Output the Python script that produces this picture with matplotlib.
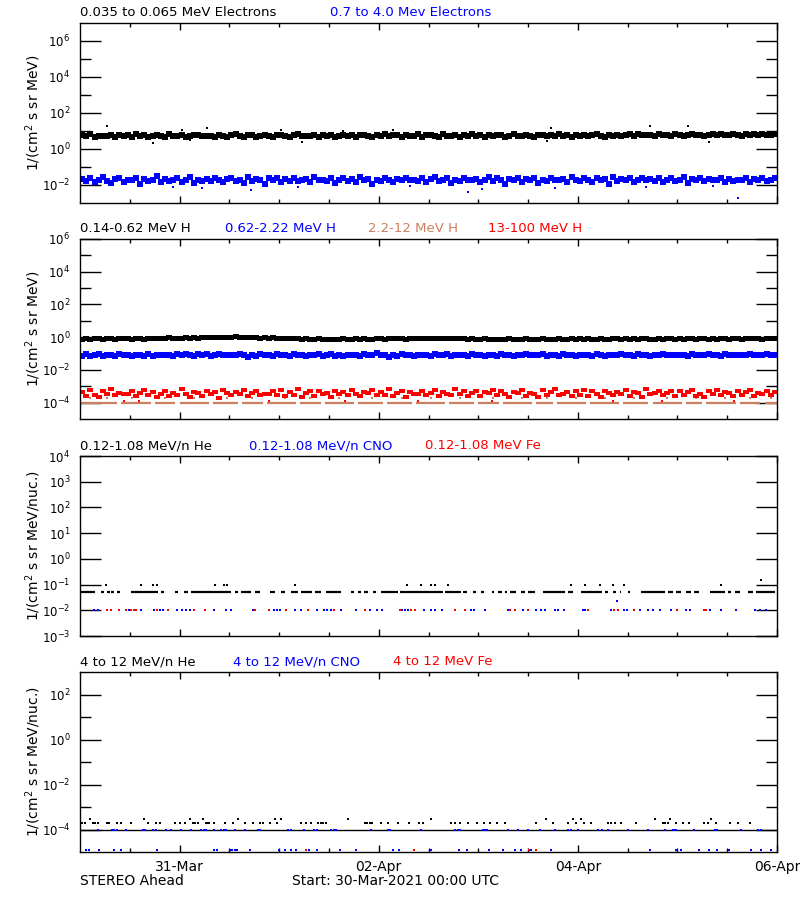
import numpy as np
import matplotlib.pyplot as plt
from matplotlib.ticker import FixedLocator, NullFormatter, LogFormatterMathtext

# time axis: hours since 30-Mar-2021 00:00 UTC, one value per hour
hours = np.arange(168) + 0.5

# --- panel 1: electrons (1/(cm2 s sr MeV)) ---
e_low = [6.1, 5.2, 6.8, 4.9, 5.6, 5.0, 5.5, 5.8, 4.6, 6.2, 5.3, 5.9,
         4.8, 6.4, 5.1, 5.7, 4.5, 5.4, 6.0, 5.4, 4.9, 6.6, 5.2, 5.5,
         5.8, 4.7, 5.2, 5.9, 6.3, 5.0, 5.6, 5.6, 4.8, 6.1, 5.3, 4.6,
         5.8, 6.5, 5.1, 4.9, 5.7, 6.2, 4.4, 5.5, 6.0, 5.2, 4.8, 6.3,
         5.9, 5.4, 4.7, 5.9, 6.4, 5.1, 5.3, 5.0, 6.1, 4.6, 5.8, 5.5,
         6.2, 4.9, 5.6, 5.9, 5.2, 6.0, 4.8, 5.7, 6.3, 5.1, 4.5, 5.9,
         5.4, 6.6, 5.0, 5.7, 5.8, 4.7, 6.1, 5.5, 5.2, 6.4, 4.9, 5.7,
         6.0, 5.3, 4.8, 6.7, 5.6, 5.1, 6.2, 4.6, 5.9, 5.4, 6.5, 5.0,
         5.7, 4.9, 6.3, 5.2, 5.8, 6.1, 4.7, 5.5, 6.4, 5.0, 5.6, 6.0,
         5.3, 4.8, 6.2, 5.9, 5.4, 5.8, 5.4, 6.6, 5.1, 5.7, 4.9, 6.1,
         5.5, 6.3, 5.0, 5.8, 6.5, 5.2, 4.8, 6.0, 5.6, 6.2, 5.3, 5.9,
         6.4, 5.1, 6.8, 5.7, 6.0, 6.2, 5.4, 6.6, 5.9, 6.2, 5.5, 7.0,
         6.1, 5.6, 6.3, 6.5, 5.8, 6.3, 5.2, 5.9, 6.7, 5.9, 6.4, 6.0,
         5.7, 6.6, 6.2, 5.5, 7.1, 6.0, 6.4, 5.8, 6.9, 6.3, 6.1, 6.7]
e_low_spike_t = [6.5, 17.5, 24.5, 26.5, 30.5, 48.5, 53.5, 63.5, 75.5, 112.5, 113.5,
                 137.5, 146.5, 151.5]
e_low_spike_v = [19.0, 2.1, 11.0, 3.1, 14.0, 12.0, 2.6, 10.5, 12.0, 2.8, 15.0,
                 20.0, 18.0, 2.5]
e_high = [0.022, 0.016, 0.025, 0.014, 0.019, 0.028, 0.017, 0.013, 0.021, 0.024, 0.015, 0.020,
          0.018, 0.026, 0.012, 0.022, 0.016, 0.019, 0.030, 0.014, 0.021, 0.017, 0.018, 0.023,
          0.015, 0.020, 0.027, 0.013, 0.018, 0.017, 0.022, 0.016, 0.025, 0.019, 0.014, 0.021,
          0.024, 0.017, 0.020, 0.013, 0.028, 0.016, 0.022, 0.019, 0.012, 0.023, 0.018, 0.026,
          0.015, 0.021, 0.017, 0.024, 0.016, 0.019, 0.022, 0.014, 0.027, 0.018, 0.020, 0.016,
          0.023, 0.013, 0.019, 0.025, 0.017, 0.021, 0.015, 0.029, 0.018, 0.022, 0.012, 0.020,
          0.016, 0.024, 0.019, 0.014, 0.022, 0.018, 0.026, 0.019, 0.020, 0.017, 0.023, 0.015,
          0.021, 0.028, 0.016, 0.019, 0.024, 0.013, 0.020, 0.017, 0.025, 0.018, 0.018, 0.022,
          0.014, 0.020, 0.027, 0.016, 0.023, 0.019, 0.012, 0.021, 0.018, 0.025, 0.015, 0.022,
          0.019, 0.026, 0.013, 0.020, 0.017, 0.024, 0.019, 0.018, 0.022, 0.015, 0.028, 0.019,
          0.016, 0.023, 0.020, 0.014, 0.025, 0.018, 0.021, 0.012, 0.027, 0.017, 0.022, 0.019,
          0.024, 0.015, 0.020, 0.026, 0.018, 0.021, 0.017, 0.023, 0.014, 0.019, 0.025, 0.016,
          0.020, 0.027, 0.013, 0.022, 0.018, 0.024, 0.016, 0.021, 0.019, 0.019, 0.026, 0.015,
          0.022, 0.017, 0.019, 0.020, 0.025, 0.014, 0.021, 0.018, 0.023, 0.016, 0.020, 0.024]
e_high_spike_t = [22.5, 29.5, 52.5, 79.5, 93.5, 114.5, 136.5, 152.5, 158.5, 41.2, 96.8]
e_high_spike_v = [0.008, 0.007, 0.008, 0.009, 0.004, 0.007, 0.008, 0.009, 0.002, 0.005, 0.006]

# --- panel 2: protons ---
h_low = [0.82, 0.90, 0.78, 0.86, 0.93, 0.80, 0.88, 0.84, 0.79, 0.91, 0.85, 0.87,
         0.81, 0.89, 0.92, 0.83, 0.86, 0.95, 0.88, 0.84, 0.90, 0.97, 0.87, 0.93,
         0.89, 0.96, 0.91, 0.99, 0.94, 1.02, 0.97, 1.05, 0.99, 1.08, 1.03, 0.98,
         1.06, 1.12, 1.01, 1.09, 1.04, 0.99, 1.03, 0.95, 0.98, 0.92, 0.96, 0.90,
         0.88, 0.93, 0.86, 0.90, 0.84, 0.80, 0.87, 0.82, 0.78, 0.85, 0.81, 0.79,
         0.83, 0.77, 0.80, 0.86, 0.82, 0.79, 0.84, 0.81, 0.88, 0.83, 0.80, 0.85,
         0.87, 0.82, 0.89, 0.84, 0.91, 0.86, 0.83, 0.88, 0.85, 0.90, 0.87, 0.84,
         0.89, 0.93, 0.86, 0.91, 0.88, 0.84, 0.87, 0.90, 0.85, 0.82, 0.86, 0.83,
         0.80, 0.84, 0.81, 0.78, 0.83, 0.79, 0.82, 0.86, 0.80, 0.77, 0.81, 0.84,
         0.79, 0.83, 0.80, 0.85, 0.82, 0.78, 0.81, 0.84, 0.80, 0.83, 0.86, 0.82,
         0.85, 0.81, 0.88, 0.83, 0.80, 0.86, 0.82, 0.79, 0.84, 0.87, 0.81, 0.85,
         0.82, 0.86, 0.80, 0.84, 0.88, 0.83, 0.79, 0.85, 0.81, 0.87, 0.84, 0.80,
         0.86, 0.82, 0.89, 0.84, 0.80, 0.85, 0.88, 0.83, 0.86, 0.81, 0.84, 0.87,
         0.83, 0.88, 0.85, 0.81, 0.86, 0.90, 0.84, 0.87, 0.82, 0.85, 0.89, 0.84]
h_mid = [0.075, 0.088, 0.070, 0.082, 0.095, 0.072, 0.085, 0.079, 0.068, 0.090, 0.077, 0.083,
         0.071, 0.086, 0.080, 0.074, 0.092, 0.069, 0.081, 0.087, 0.076, 0.084, 0.073, 0.089,
         0.078, 0.094, 0.082, 0.072, 0.088, 0.080, 0.091, 0.075, 0.085, 0.098, 0.079, 0.086,
         0.083, 0.076, 0.090, 0.081, 0.062, 0.087, 0.074, 0.093, 0.080, 0.085, 0.071, 0.088,
         0.077, 0.084, 0.070, 0.089, 0.079, 0.083, 0.073, 0.086, 0.078, 0.091, 0.075, 0.082,
         0.088, 0.074, 0.081, 0.069, 0.087, 0.079, 0.084, 0.072, 0.090, 0.077, 0.083, 0.106,
         0.080, 0.086, 0.063, 0.082, 0.075, 0.089, 0.078, 0.084, 0.071, 0.087, 0.079, 0.083,
         0.074, 0.088, 0.081, 0.076, 0.092, 0.070, 0.085, 0.079, 0.083, 0.073, 0.089, 0.077,
         0.084, 0.072, 0.087, 0.080, 0.075, 0.090, 0.078, 0.083, 0.069, 0.086, 0.081, 0.088,
         0.076, 0.082, 0.079, 0.091, 0.073, 0.085, 0.080, 0.074, 0.088, 0.078, 0.084, 0.071,
         0.087, 0.079, 0.083, 0.075, 0.089, 0.081, 0.072, 0.086, 0.080, 0.077, 0.092, 0.078,
         0.082, 0.074, 0.088, 0.080, 0.085, 0.071, 0.083, 0.079, 0.090, 0.076, 0.084, 0.081,
         0.078, 0.086, 0.073, 0.089, 0.080, 0.083, 0.077, 0.091, 0.079, 0.084, 0.072, 0.088,
         0.081, 0.076, 0.087, 0.083, 0.079, 0.090, 0.082, 0.086, 0.078, 0.093, 0.080, 0.085]
# 13-100 MeV H, in units of 1e-4
h_top = [4.2, 2.6, 5.8, 3.1, 2.2, 4.9, 3.6, 6.5, 2.8, 4.0, 3.3, 3.3,
         5.2, 2.4, 3.8, 6.1, 2.9, 4.5, 2.1, 3.5, 5.5, 2.7, 4.1, 3.0,
         6.8, 3.4, 2.3, 4.7, 3.9, 2.5, 5.3, 3.2, 4.4, 2.0, 5.9, 3.7,
         2.8, 4.6, 3.3, 6.3, 2.4, 4.0, 5.1, 2.9, 3.6, 3.2, 4.8, 3.1,
         5.6, 2.6, 4.3, 3.0, 6.6, 2.2, 3.8, 4.9, 2.7, 5.4, 3.5, 4.1,
         2.3, 5.0, 3.4, 4.4, 2.9, 6.0, 3.2, 2.5, 4.7, 3.7, 5.7, 2.8,
         4.5, 3.1, 6.9, 2.6, 3.9, 5.2, 2.1, 4.2, 3.6, 3.4, 5.5, 3.0,
         3.8, 5.9, 2.4, 4.6, 3.3, 2.9, 6.4, 3.5, 4.8, 2.7, 4.0, 5.1,
         2.5, 4.3, 3.7, 6.2, 2.8, 5.0, 3.2, 2.3, 4.5, 3.9, 5.8, 2.6,
         4.1, 3.4, 2.2, 5.6, 3.0, 4.7, 6.7, 2.9, 3.6, 4.4, 2.4, 5.3,
         3.1, 6.0, 2.7, 4.9, 3.5, 2.1, 5.4, 3.8, 3.0, 4.2, 3.3, 5.7,
         2.6, 4.6, 3.9, 2.3, 6.5, 3.2, 4.0, 5.1, 2.8, 3.7, 4.8, 2.5,
         5.5, 3.0, 4.4, 6.1, 2.7, 3.6, 2.2, 4.9, 3.4, 5.9, 2.9, 4.3,
         3.8, 2.4, 5.2, 3.1, 4.7, 6.3, 2.6, 4.0, 3.5, 5.0, 2.8, 4.5]
h_top_spike_t = [10.5, 14.2, 45.5, 63.8, 81.5, 99.2, 128.5, 140.3, 157.6]
h_top_spike_v = [1.3, 1.2, 1.2, 1.3, 1.3, 1.2, 1.2, 1.3, 1.2]
# 2.2-12 MeV H: one-count level with gaps, and two-count points
h_hi_level = 9e-5
h_hi_gaps = [9, 17, 23, 31, 38, 44, 52, 58, 66, 73, 80, 88, 95, 101, 109, 114,
             122, 130, 137, 145, 150, 158, 164]
h_hi_double = 1.8e-4
h_hi_double_t = [2, 6, 12, 20, 27, 35, 41, 49, 55, 62, 70, 77, 84, 91, 99, 106,
                 112, 119, 126, 133, 141, 148, 155, 161, 166]

# --- panel 3: 0.12-1.08 MeV/n heavy ions ---
he1_level = 0.05
he1_segments = [(0.2, 3.5), (5.0, 5.9), (6.6, 7.2), (7.5, 8.2), (9.0, 9.6), (12.4, 18.8),
                (19.6, 20.2), (22.8, 23.6), (25.1, 26.0), (26.8, 36.5), (37.3, 38.1),
                (38.9, 41.3), (42.1, 43.5), (45.7, 46.9), (48.5, 49.3), (50.9, 52.5),
                (53.3, 55.8), (56.6, 58.2), (59.4, 63.0), (65.4, 66.0), (67.0, 67.8),
                (68.5, 69.4), (70.6, 71.4), (72.6, 76.6), (77.1, 87.5), (87.9, 91.9),
                (92.3, 93.4), (94.7, 95.5), (96.7, 97.4), (99.2, 99.8), (100.8, 101.7),
                (102.4, 103.0), (103.6, 105.2), (106.2, 107.2), (108.0, 109.6),
                (111.6, 116.8), (117.6, 118.8), (120.8, 125.7), (126.5, 127.3),
                (128.5, 129.3), (130.1, 130.5), (132.1, 132.5), (135.3, 140.9),
                (141.7, 142.9), (143.7, 144.9), (146.1, 147.3), (148.1, 149.3),
                (151.8, 155.4), (156.2, 157.0), (157.8, 159.0), (161.0, 162.2), (163.0, 167.4)]
he1_peak_t = [6.3, 14.7, 17.6, 18.5, 32.5, 34.7, 35.4, 51.8, 78.8, 82.2, 84.6, 85.6,
              88.7, 118.3, 121.7, 125.3, 128.5, 131.1, 154.5, 164.2]
he1_peak_v = [0.1, 0.1, 0.1, 0.1, 0.1, 0.1, 0.1, 0.1, 0.1, 0.1, 0.1, 0.1,
              0.1, 0.1, 0.1, 0.1, 0.1, 0.1, 0.1, 0.15]
cno1_t = [3.4, 4.3, 11.7, 14.7, 17.9, 19.3, 20.0, 23.4, 24.5, 25.5, 26.5, 32.4, 35.2,
          36.4, 41.7, 46.8, 47.5, 48.2, 51.8, 53.2, 57.1, 58.8, 59.6, 60.5, 62.9, 66.5,
          69.8, 71.6, 72.8, 77.7, 78.4, 79.1, 83.0, 84.6, 85.6, 87.3, 94.3, 95.0, 97.7,
          103.2, 106.8, 109.9, 111.1, 112.1, 114.5, 115.2, 116.7, 121.2, 121.7, 128.0,
          129.4, 131.2, 131.8, 134.9, 136.9, 138.1, 139.9, 142.4, 146.1, 147.1, 151.8,
          154.5, 158.1, 162.7, 163.9, 165.3]
cno1_v = [0.01] * 50 + [0.022] + [0.01] * 15
fe1_t = [6.5, 7.5, 9.4, 11.0, 12.3, 13.0, 13.6, 18.6, 21.2, 27.4, 30.1, 42.1, 45.5,
         49.7, 54.9, 61.3, 68.6, 77.1, 79.8, 80.8, 90.5, 92.9, 103.6, 104.8, 108.0,
         122.4, 128.8, 129.6, 133.5, 143.9, 150.4, 150.9]
fe1_v = [0.01] * len(fe1_t)

# --- panel 4: 4-12 MeV/n heavy ions ---
he4_level = 1e-4
he4_segments = [(0.0, 168.0)]
he4_t = [0.5, 1.1, 2.3, 3.1, 3.7, 4.3, 6.6, 7.1, 8.8, 10.0, 12.4, 15.4, 16.4, 18.2,
         19.2, 23.0, 24.0, 25.2, 26.4, 27.2, 27.8, 28.4, 29.6, 30.3, 30.8, 31.2, 32.4,
         34.9, 36.9, 38.1, 39.7, 41.7, 43.3, 44.1, 45.9, 46.9, 47.5, 48.5, 53.2, 54.5,
         55.7, 57.3, 58.0, 58.6, 59.3, 64.6, 68.6, 69.2, 69.9, 70.5, 72.6, 74.2, 76.6,
         79.4, 81.8, 82.6, 84.7, 89.5, 90.3, 91.5, 93.5, 95.8, 97.4, 98.8, 100.4, 102.4,
         110.0, 112.4, 114.0, 117.6, 118.8, 119.6, 120.8, 121.6, 123.2, 127.3, 128.1,
         128.9, 130.5, 134.1, 138.5, 140.5, 141.1, 141.7, 142.1, 143.7, 145.3, 146.9,
         150.5, 151.4, 152.2, 153.4, 156.6, 158.6, 161.4]
he4_v = [2e-4, 2e-4, 3e-4, 2e-4, 2e-4, 2e-4, 2e-4, 2e-4, 2e-4, 2e-4, 2e-4, 3e-4, 2e-4, 2e-4,
         2e-4, 2e-4, 2e-4, 2e-4, 3e-4, 2e-4, 2e-4, 2e-4, 3e-4, 2e-4, 2e-4, 2e-4, 2e-4,
         2e-4, 2e-4, 3e-4, 2e-4, 2e-4, 2e-4, 2e-4, 2e-4, 3e-4, 2e-4, 3e-4, 2e-4, 2e-4,
         2e-4, 2e-4, 2e-4, 2e-4, 2e-4, 3e-4, 2e-4, 2e-4, 2e-4, 2e-4, 2e-4, 2e-4, 2e-4,
         2e-4, 2e-4, 2e-4, 3e-4, 2e-4, 2e-4, 2e-4, 2e-4, 2e-4, 2e-4, 2e-4, 2e-4, 2e-4,
         2e-4, 3e-4, 2e-4, 2e-4, 3e-4, 2e-4, 3e-4, 2e-4, 2e-4, 2e-4, 2e-4,
         2e-4, 2e-4, 2e-4, 3e-4, 2e-4, 2e-4, 2e-4, 3e-4, 2e-4, 2e-4, 2e-4,
         2e-4, 2e-4, 3e-4, 2e-4, 2e-4, 2e-4, 2e-4]
cno4_mid_t = [4.3, 7.6, 8.2, 8.8, 11.2, 15.2, 15.6, 17.6, 18.2, 20.8, 22.0, 24.4, 26.8,
              29.2, 29.9, 30.4, 32.4, 34.1, 34.7, 35.3, 37.3, 39.7, 42.9, 43.5, 50.1,
              50.9, 54.1, 56.5, 57.2, 60.5, 61.2, 61.8, 70.2, 74.2, 74.8, 82.2, 90.3,
              91.0, 91.5, 97.2, 97.6, 98.0, 103.2, 105.6, 108.0, 110.8, 114.4, 117.6,
              118.3, 120.0, 124.9, 125.7, 127.3, 132.1, 136.9, 140.9, 142.9, 143.3,
              143.7, 148.1, 153.0, 153.6, 159.4, 163.4, 164.2]
cno4_low_t = [1.5, 2.2, 4.7, 8.3, 9.8, 18.6, 32.3, 33.1, 36.1, 36.6, 37.3, 37.9, 40.9,
              47.9, 49.5, 50.9, 52.1, 55.3, 57.2, 62.6, 66.6, 75.4, 76.8, 84.7, 91.3,
              93.4, 98.5, 102.0, 104.9, 106.2, 108.8, 113.6, 137.5, 143.7, 144.8, 149.3,
              151.6, 153.6, 156.4, 161.8, 164.2, 166.6]
cno4_mid = 1e-4
cno4_low = 1.2e-5
fe4_t = [54.4, 80.5, 108.2, 109.8]
fe4_v = 1.2e-5

BROWN = '#cd7f5f'

fig = plt.figure(figsize=(8, 9), dpi=100)
plt.rcParams['font.family'] = ['DejaVu Sans']

def make_axes(top_px, ymin, ymax, major, minor):
    ax = fig.add_axes([80 / 800, 1 - (top_px + 180) / 900, 697 / 800, 180 / 900])
    ax.set_xlim(0, 168)
    ax.set_yscale('log')
    ax.set_ylim(ymin, ymax)
    ax.yaxis.set_major_locator(FixedLocator(major))
    ax.yaxis.set_major_formatter(LogFormatterMathtext())
    ax.yaxis.set_minor_locator(FixedLocator(minor))
    ax.yaxis.set_minor_formatter(NullFormatter())
    ax.xaxis.set_major_locator(FixedLocator([24, 72, 120, 168]))
    ax.xaxis.set_minor_locator(FixedLocator(np.arange(12, 168, 12)))
    ax.xaxis.set_major_formatter(NullFormatter())
    ax.tick_params(axis='y', which='major', direction='in', length=15, width=1,
                   left=True, right=True, labelsize=8.5, pad=7)
    ax.tick_params(axis='y', which='minor', direction='in', length=8, width=1,
                   left=True, right=True)
    ax.tick_params(axis='x', which='major', direction='in', length=5, width=1,
                   bottom=True, top=True)
    ax.tick_params(axis='x', which='minor', direction='in', length=3, width=1,
                   bottom=True, top=True)
    for s in ax.spines.values():
        s.set_linewidth(1)
    return ax

def titles(ax, items):
    for text, color, xpx in items:
        ax.text((xpx - 80) / 697, 1.02, text, color=color, fontsize=9.5,
                transform=ax.transAxes, ha='left', va='bottom')

def dots(ax, t, v, color, ms=2.0):
    ax.plot(t, v, 's', color=color, ms=ms, mew=0, ls='none')

def band(ax, t, v, color, height_px, width_px=6.0):
    # 1-hour samples drawn as overlapping bars so the band stays continuous
    m = max(width_px, height_px)
    a, b = width_px / m, height_px / m
    rect = [(-a, -b), (a, -b), (a, b), (-a, b), (-a, -b)]
    ax.plot(t, v, ls='none', marker=rect, ms=m * 0.72, color=color, mew=0)

# panel 1
ax1 = make_axes(23, 1e-3, 1e7, [1e-2, 1e0, 1e2, 1e4, 1e6], [1e-1, 1e1, 1e3, 1e5])
band(ax1, hours, e_low, 'black', 6)
dots(ax1, e_low_spike_t, e_low_spike_v, 'black')
band(ax1, hours, e_high, 'blue', 6.5)
dots(ax1, e_high_spike_t, e_high_spike_v, 'blue')
titles(ax1, [('0.035 to 0.065 MeV Electrons', 'black', 80),
             ('0.7 to 4.0 Mev Electrons', 'blue', 330)])

# panel 2
ax2 = make_axes(239, 1e-5, 1e6, [1e-4, 1e-2, 1e0, 1e2, 1e4, 1e6], [1e-3, 1e-1, 1e1, 1e3, 1e5])
h_hi = np.array([h_hi_level] * 168)
h_hi[h_hi_gaps] = 0
ok = h_hi > 0
ax2.hlines(h_hi[ok], hours[ok] - 0.5, hours[ok] + 0.5, color=BROWN, lw=1.6)
dots(ax2, np.array(h_hi_double_t) + 0.5, [h_hi_double] * len(h_hi_double_t), BROWN, ms=1.6)
band(ax2, hours, np.array(h_top) * 1e-4, 'red', 4)
dots(ax2, h_top_spike_t, np.array(h_top_spike_v) * 1e-4, 'red')
band(ax2, hours, h_low, 'black', 5)
band(ax2, hours, h_mid, 'blue', 5.5)
titles(ax2, [('0.14-0.62 MeV H', 'black', 80), ('0.62-2.22 MeV H', 'blue', 225),
             ('2.2-12 MeV H', BROWN, 368), ('13-100 MeV H', 'red', 488)])

# panel 3
ax3 = make_axes(456, 1e-3, 1e4, [1e-3, 1e-2, 1e-1, 1e0, 1e1, 1e2, 1e3, 1e4], [])
ax3.hlines([he1_level] * len(he1_segments), [s[0] for s in he1_segments],
           [s[1] for s in he1_segments], color='black', lw=1.6)
dots(ax3, he1_peak_t, he1_peak_v, 'black')
dots(ax3, cno1_t, cno1_v, 'blue')
dots(ax3, fe1_t, fe1_v, 'red')
titles(ax3, [('0.12-1.08 MeV/n He', 'black', 80), ('0.12-1.08 MeV/n CNO', 'blue', 249),
             ('0.12-1.08 MeV Fe', 'red', 425)])

# panel 4
ax4 = make_axes(672, 1e-5, 1e3, [1e-4, 1e-2, 1e0, 1e2], [1e-3, 1e-1, 1e1])
ax4.hlines([he4_level] * len(he4_segments), [s[0] for s in he4_segments],
           [s[1] for s in he4_segments], color='black', lw=1.0)
dots(ax4, he4_t, he4_v, 'black', ms=1.8)
dots(ax4, cno4_mid_t, [cno4_mid] * len(cno4_mid_t), 'blue', ms=1.6)
dots(ax4, cno4_low_t, [cno4_low] * len(cno4_low_t), 'blue', ms=1.8)
dots(ax4, fe4_t, [fe4_v] * len(fe4_t), 'red', ms=1.8)
titles(ax4, [('4 to 12 MeV/n He', 'black', 80), ('4 to 12 MeV/n CNO', 'blue', 233),
             ('4 to 12 MeV Fe', 'red', 393)])
ax4.xaxis.set_major_formatter(plt.FixedFormatter(['31-Mar', '02-Apr', '04-Apr', '06-Apr']))
ax4.tick_params(axis='x', which='major', labelsize=10, pad=6)

# y labels
for ax, lab in [(ax1, '1/(cm$^2$ s sr MeV)'), (ax2, '1/(cm$^2$ s sr MeV)'),
                (ax3, '1/(cm$^2$ s sr MeV/nuc.)'), (ax4, '1/(cm$^2$ s sr MeV/nuc.)')]:
    pos = ax.get_position()
    fig.text(33 / 800, pos.y0 + pos.height / 2, lab, rotation=90, fontsize=10,
             ha='center', va='center')

fig.text(80 / 800, 1 - 881 / 900, 'STEREO Ahead', fontsize=10, ha='left', va='center')
fig.text(292 / 800, 1 - 881 / 900, 'Start: 30-Mar-2021 00:00 UTC', fontsize=10,
         ha='left', va='center')

fig.savefig('out.png', dpi=100)
